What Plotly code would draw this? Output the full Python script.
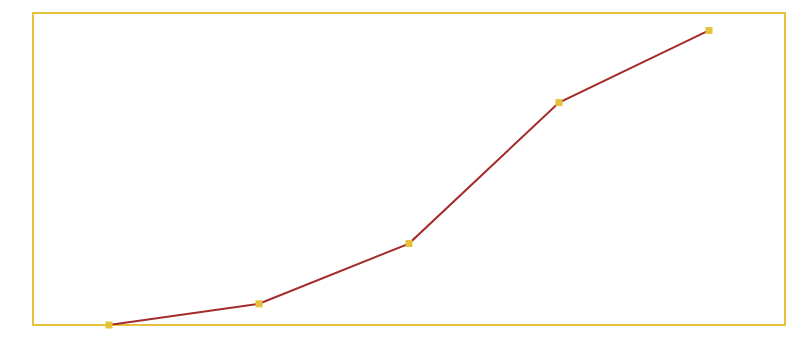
import plotly.graph_objects as go

categories = ["A", "B", "C", "D", "E"]
values = [0, 6.8, 26.1, 71.3, 94.4]

fig = go.Figure()
fig.add_trace(go.Scatter(
    x=list(range(len(categories))),
    y=values,
    mode="lines+markers",
    line=dict(color="#a52a2a", width=2),
    marker=dict(symbol="square", size=7, color="#e6c13a"),
    cliponaxis=False,
    showlegend=False,
))

fig.update_layout(
    width=786, height=338,
    margin=dict(l=33, r=1, t=13, b=13),
    paper_bgcolor="white", plot_bgcolor="white",
    xaxis=dict(range=[-0.5067, 4.5067], showgrid=False, zeroline=False,
               showticklabels=False, showline=False),
    yaxis=dict(range=[0, 100], showgrid=False, zeroline=False,
               showticklabels=False, showline=False),
    shapes=[dict(type="rect", xref="paper", yref="paper", x0=0, x1=1, y0=0, y1=1,
                 line=dict(color="#e6c13a", width=2), layer="below")],
)

fig.write_html("out.html")
